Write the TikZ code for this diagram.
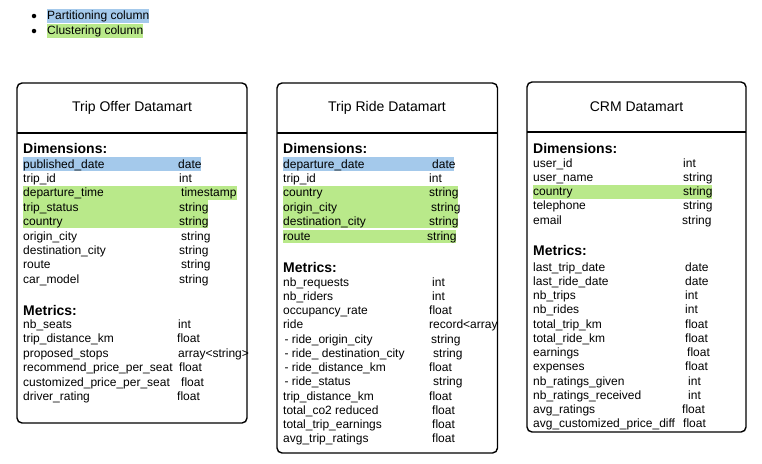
\documentclass[tikz,border=0pt]{standalone}
\usepackage{fontspec}
\setmainfont{Liberation Sans}
\definecolor{pblue}{RGB}{164,201,235}
\definecolor{cgreen}{RGB}{185,233,138}
\tikzset{
  boxframe/.style={draw=black, line width=1.4pt, rounded corners=5pt},
  divline/.style={draw=black, line width=1.4pt},
  cell/.style={anchor=base west, inner sep=0pt, font=\fontsize{12}{14}\selectfont},
  hdr/.style={anchor=base west, inner sep=0pt, font=\fontsize{14}{16}\selectfont\bfseries},
  ttl/.style={anchor=center, inner sep=0pt, font=\fontsize{14}{16}\selectfont},
  legtext/.style={anchor=west, inner xsep=0pt, inner ysep=0pt, text height=10.5pt, text depth=3.5pt, font=\fontsize{12}{14}\selectfont},
  bullet/.style={circle, fill=black, inner sep=0pt, minimum size=4.5pt}
}
\begin{document}
\begin{tikzpicture}[x=1pt,y=-1pt]
\useasboundingbox (0,0) rectangle (762,463);
\fill[white] (0,0) rectangle (762,463);

% legend
\node[bullet] (bul1) at (34,16) {};
\node[bullet] (bul2) at (34,31) {};
\node[legtext, fill=pblue] (leg1) at (47,16) {Partitioning column};
\node[legtext, fill=cgreen] (leg2) at (47,31) {Clustering column};

% highlights box 1
\fill[pblue] (23,157) rectangle (201,171);
\fill[cgreen] (23,186) rectangle (237,200);
\fill[cgreen] (23,200) rectangle (208,228);
% highlights box 2
\fill[pblue] (283,157) rectangle (454,171);
\fill[cgreen] (283,186) rectangle (458,228);
\fill[cgreen] (283,229.5) rectangle (456,243);
% highlights box 3
\fill[cgreen] (533,185) rectangle (712,199);

% ---------- Box 1 ----------
\draw[boxframe] (17,83) rectangle (247,423);
\draw[divline] (17,133) -- (247,133);
\node[ttl] (t1) at (132,108) {Trip Offer Datamart};
\node[hdr] (o-dh) at (23,153) {Dimensions:};
\foreach \n/\t/\tx [count=\i] in {
  published\_date/date/178,
  trip\_id/int/179,
  departure\_time/timestamp/181,
  trip\_status/string/179,
  country/string/179,
  origin\_city/string/181,
  destination\_city/string/179,
  route/string/181,
  car\_model/string/179}{
  \node[cell] (o-d\i) at (23,{168+(\i-1)*14.4}) {\n};
  \node[cell] (o-dt\i) at (\tx,{168+(\i-1)*14.4}) {\t};
}
\node[hdr] (o-mh) at (23,315) {Metrics:};
\foreach \n/\t/\tx [count=\i] in {
  nb\_seats/int/178,
  trip\_distance\_km/float/177,
  proposed\_stops/array<string>/178,
  recommend\_price\_per\_seat/float/179,
  customized\_price\_per\_seat/float/181,
  driver\_rating/float/177}{
  \node[cell] (o-m\i) at (23,{328.5+(\i-1)*14.4}) {\n};
  \node[cell] (o-mt\i) at (\tx,{328.5+(\i-1)*14.4}) {\t};
}

% ---------- Box 2 ----------
\draw[boxframe] (277,83) rectangle (497.5,453);
\draw[divline] (277,133) -- (497.5,133);
\node[ttl] (t2) at (387,108) {Trip Ride Datamart};
\node[hdr] (r-dh) at (283,153) {Dimensions:};
\foreach \n/\t/\tx [count=\i] in {
  departure\_date/date/432,
  trip\_id/int/429,
  country/string/429,
  origin\_city/string/431,
  destination\_city/string/429,
  route/string/427}{
  \node[cell] (r-d\i) at (283,{168+(\i-1)*14.4}) {\n};
  \node[cell] (r-dt\i) at (\tx,{168+(\i-1)*14.4}) {\t};
}
\node[hdr] (r-mh) at (283,272) {Metrics:};
\foreach \n/\t/\tx [count=\i] in {
  nb\_requests/int/432,
  nb\_riders/int/432,
  occupancy\_rate/float/429,
  ride/record<array/429,
  {\ \!- ride\_origin\_city}/string/431,
  {\ \!- ride\_ destination\_city}/string/433,
  {\ \!- ride\_distance\_km}/float/429,
  {\ \!- ride\_status}/string/433,
  trip\_distance\_km/float/429,
  total\_co2 reduced/float/432,
  total\_trip\_earnings/float/432,
  avg\_trip\_ratings/float/432}{
  \node[cell] (r-m\i) at (283,{286+(\i-1)*14.27}) {\n};
  \node[cell] (r-mt\i) at (\tx,{286+(\i-1)*14.27}) {\t};
}

% ---------- Box 3 ----------
\draw[boxframe] (527,82) rectangle (746,432);
\draw[divline] (527,132) -- (746,132);
\node[ttl] (t3) at (636.5,107) {CRM Datamart};
\node[hdr] (c-dh) at (533,153) {Dimensions:};
\foreach \n/\t/\tx [count=\i] in {
  user\_id/int/683,
  user\_name/string/683,
  country/string/683,
  telephone/string/683,
  email/string/682}{
  \node[cell] (c-d\i) at (533,{167+(\i-1)*14.3}) {\n};
  \node[cell] (c-dt\i) at (\tx,{167+(\i-1)*14.3}) {\t};
}
\node[hdr] (c-mh) at (533,255) {Metrics:};
\foreach \n/\t/\tx [count=\i] in {
  last\_trip\_date/date/685,
  last\_ride\_date/date/685,
  nb\_trips/int/685,
  nb\_rides/int/685,
  total\_trip\_km/float/685,
  total\_ride\_km/float/685,
  earnings/float/687,
  expenses/float/685,
  nb\_ratings\_given/int/688,
  nb\_ratings\_received/int/688,
  avg\_ratings/float/682,
  avg\_customized\_price\_diff/float/683}{
  \node[cell] (c-m\i) at (533,{271+(\i-1)*14.27}) {\n};
  \node[cell] (c-mt\i) at (\tx,{271+(\i-1)*14.27}) {\t};
}
\end{tikzpicture}
\end{document}
